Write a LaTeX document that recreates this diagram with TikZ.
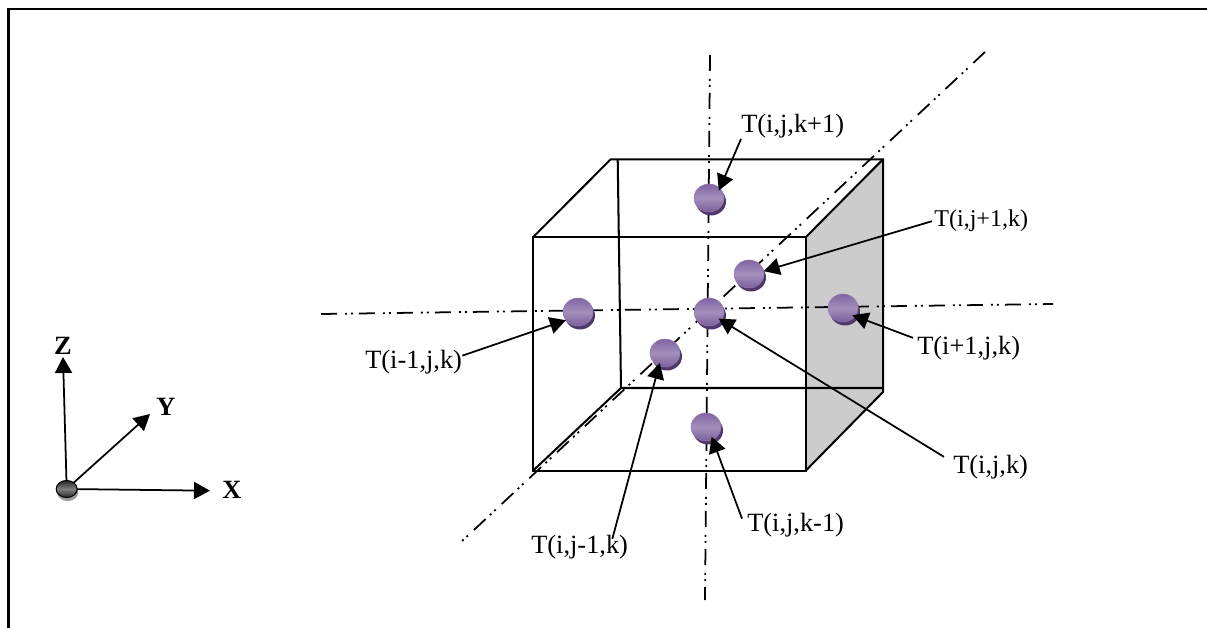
\documentclass[tikz,border=0pt]{standalone}
\usepackage{fontspec}
\setmainfont{Liberation Serif}
\usepackage{tikz}
\usetikzlibrary{arrows.meta,shadows,shapes.geometric}
\definecolor{ballpurple}{RGB}{128,100,162}
\definecolor{ballshadow}{RGB}{78,56,108}
\definecolor{facegray}{RGB}{204,204,204}
\tikzset{
  ball/.style={ellipse,minimum width=0.6cm,minimum height=0.56cm,inner sep=0pt,outer sep=0pt,
    top color=ballpurple,bottom color=ballpurple!95!black,middle color=ballpurple!72!white,
    draw=ballpurple!85!white,line width=0.3pt,
    drop shadow={shadow xshift=0.04cm,shadow yshift=-0.07cm,fill=ballshadow,opacity=1}},
  origin/.style={ellipse,minimum width=0.42cm,minimum height=0.34cm,inner sep=0pt,outer sep=0pt,
    top color=black!85,bottom color=black!85,middle color=black!50,draw=black,line width=0.6pt,
    drop shadow={shadow xshift=0.02cm,shadow yshift=-0.07cm,fill=black!40,opacity=1}},
  lbl/.style={inner sep=0pt,anchor=base west,font=\fontsize{15pt}{17pt}\selectfont},
  axlbl/.style={inner sep=0pt,font=\fontsize{15pt}{17pt}\selectfont\bfseries},
  cubeline/.style={line width=1.15pt},
  axisline/.style={line width=1pt,dash pattern=on 0.32cm off 0.16cm on 0.04cm off 0.08cm on 0.04cm off 0.12cm},
  pointer/.style={line width=1pt,-{Triangle[length=0.32cm,width=0.34cm]}},
}
\begin{document}
\begin{tikzpicture}[x=0.02cm,y=-0.02cm]
\useasboundingbox (0,0) rectangle (1207,628);
% Outer frame
\draw[line width=1.5pt] (8.5,628)--(8.5,9)--(1207,9);
% Shaded side of the cube
\fill[facegray] (805.7,237.3)--(883,159.3)--(883,392)--(805.7,470.7)--cycle;
% Cube edges
\draw[cubeline] (533,237.3) rectangle (805.7,470.7);
\draw[cubeline] (533,237.3)--(610.7,159.3)--(883,159.3)--(883,392)--(805.7,470.7);
\draw[cubeline] (805.7,237.3)--(883,159.3);
\draw[cubeline] (617.7,159.3)--(621,388)--(883,388);
\draw[cubeline] (621,388)--(533,470.7);
% Axes through the centre
\draw[axisline] (710,55)--(705,600);
\draw[axisline] (321,314)--(1053,304);
\draw[axisline] (985,52)--(460,543);
% Grid points
\node[ball] (top) at (709,198) {};
\node[ball] (back) at (749,274) {};
\node[ball] (centre) at (709,312) {};
\node[ball] (left) at (578,312) {};
\node[ball] (right) at (843,308) {};
\node[ball] (front) at (665,353) {};
\node[ball] (bottom) at (706,427) {};
% Labels
\node[lbl] (ltop) at (741,133) {T(i,j,k+1)};
\node[lbl,font=\fontsize{13.7pt}{16pt}\selectfont] (lback) at (934,227) {T(i,j+1,k)};
\node[lbl] (lcentre) at (953,473) {T(i,j,k)};
\node[lbl] (lleft) at (365,368) {T(i-1,j,k)};
\node[lbl] (lright) at (917,354) {T(i+1,j,k)};
\node[lbl] (lfront) at (531,553) {T(i,j-1,k)};
\node[lbl] (lbottom) at (747,531) {T(i,j,k-1)};
% Pointers
\draw[pointer,shorten >=-0.05cm] (ltop.south west)--(top.42);
\draw[pointer] ([xshift=-0.04cm]lback.west)--(back.11);
\draw[pointer,shorten >=-0.06cm] ([xshift=-0.18cm,yshift=-0.05cm]lcentre.north west)--(centre.-34);
\draw[pointer] ([yshift=0.12cm]lleft.east)--(left.-146);
\draw[pointer,shorten >=-0.06cm] ([xshift=-0.08cm,yshift=-0.05cm]lright.north west)--(right.-34);
\draw[pointer,shorten >=-0.06cm] ([xshift=-0.32cm,yshift=-0.09cm]lfront.north east)--(front.-115);
\draw[pointer,shorten >=-0.06cm] ([xshift=-0.1cm,yshift=0.12cm]lbottom.west)--(bottom.-62);
% Coordinate triad
\node[origin] (org) at (66.7,489) {};
\coordinate (xtip) at (210,490.7);
\coordinate (ytip) at (150,414);
\coordinate (ztip) at (63,357);
\draw[pointer] (org)--(xtip);
\draw[pointer] (org)--(ytip);
\draw[pointer] (org)--(ztip);
\node[axlbl] (xl) at (232,490) {X};
\node[axlbl] (yl) at (166,407) {Y};
\node[axlbl] (zl) at (63,346) {Z};
\end{tikzpicture}
\end{document}
